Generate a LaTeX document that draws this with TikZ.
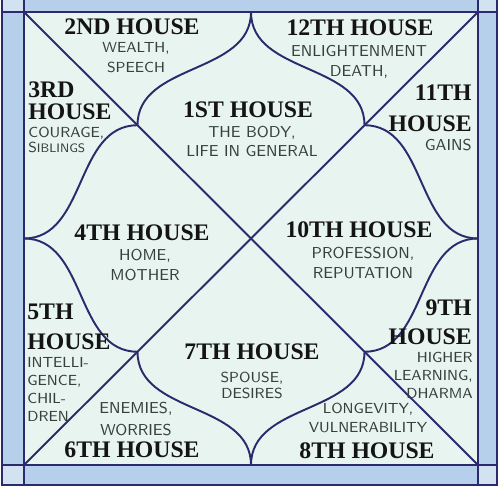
\documentclass[tikz,border=0pt]{standalone}
\usepackage[HTML]{xcolor}
\usepackage{fontspec}
\usepackage{tikz}
\newfontfamily\housefont{Liberation Serif}

\definecolor{stripblue}{HTML}{B6CFEA}
\definecolor{cornerblue}{HTML}{D3E2F1}
\definecolor{chartbg}{HTML}{E8F4F0}
\definecolor{chartline}{HTML}{2A2A6C}
\definecolor{namecol}{HTML}{141414}
\definecolor{notecol}{HTML}{37403C}

\begin{document}
\begin{tikzpicture}[x=0.02cm,y=0.02cm,
  house/.style={text=namecol,inner sep=0pt,font=\housefont\bfseries\fontsize{13.5}{#1}\selectfont},
  house/.default=15,
  trait/.style={text=notecol,inner sep=0pt,font=\sffamily\fontsize{8.3}{#1}\selectfont},
  trait/.default=11.3,
  bigtrait/.style={text=notecol,inner sep=0pt,font=\sffamily\fontsize{9}{#1}\selectfont},
  bigtrait/.default=11.3,
  frameline/.style={draw=chartline,line width=0.8pt},
  chart/.style={draw=chartline,line width=1.1pt}]
\useasboundingbox (0,0) rectangle (500,489);

% frame strips
\fill[stripblue] (2,4) rectangle (497,489);
\fill[cornerblue] (2,477) rectangle (24,489);
\fill[cornerblue] (478,477) rectangle (497,489);
\fill[cornerblue] (2,4) rectangle (24,24);
\fill[cornerblue] (478,4) rectangle (497,24);
\fill[chartbg] (24,24) rectangle (478,477);
\draw[frameline] (2,489) -- (2,4) -- (497,4) -- (497,489);
\draw[frameline] (24,489) -- (24,4);
\draw[frameline] (478,489) -- (478,4);
\draw[frameline] (2,477) -- (497,477);
\draw[frameline] (2,24) -- (497,24);

% chart points
\coordinate (tl) at (24,477);
\coordinate (tr) at (478,477);
\coordinate (bl) at (24,24);
\coordinate (br) at (478,24);
\coordinate (tm) at (251,477);
\coordinate (bm) at (251,24);
\coordinate (lm) at (24,250.5);
\coordinate (rm) at (478,250.5);
\coordinate (ul) at (137.5,363.75);
\coordinate (ur) at (364.5,363.75);
\coordinate (ll) at (137.5,137.25);
\coordinate (lr) at (364.5,137.25);

% diagonals and petals
\draw[chart] (tl) -- (br);
\draw[chart] (tr) -- (bl);
\draw[chart] (tm) to[out=-90,in=90] (ul);
\draw[chart] (tm) to[out=-90,in=90] (ur);
\draw[chart] (lm) to[out=0,in=180] (ul);
\draw[chart] (lm) to[out=0,in=180] (ll);
\draw[chart] (bm) to[out=90,in=-90] (ll);
\draw[chart] (bm) to[out=90,in=-90] (lr);
\draw[chart] (rm) to[out=180,in=0] (ur);
\draw[chart] (rm) to[out=180,in=0] (lr);

% houses
\node[house] (h1) at (248,379) {1ST HOUSE};
\node[bigtrait=10.8,align=center] (h1t) at (252,347.5) {THE BODY,\\LIFE IN GENERAL};
\node[house] (h2) at (132,462) {2ND HOUSE};
\node[trait,align=center] (h2t) at (136,431) {WEALTH,\\SPEECH};
\node[house=12.5,align=left,anchor=west] (h3) at (28,388) {3RD\\HOUSE};
\node[trait=9,align=left,anchor=west] (h3t) at (28,349) {COURAGE,\\S{\fontsize{7}{9}\selectfont IBLINGS}};
\node[house] (h4) at (142,256) {4TH HOUSE};
\node[bigtrait,align=center] (h4t) at (145,224) {HOME,\\MOTHER};
\node[house=17,align=left,anchor=west] (h5) at (27,162) {5TH\\HOUSE};
\node[trait=10.4,align=left,anchor=west] (h5t) at (27,99.5) {INTELLI-\\GENCE,\\CHIL-\\DREN};
\node[house] (h6) at (132,39) {6TH HOUSE};
\node[bigtrait=12.5,align=center] (h6t) at (136,70) {ENEMIES,\\WORRIES};
\node[house] (h7) at (252,137) {7TH HOUSE};
\node[trait=9.6,align=center] (h7t) at (252,103.5) {SPOUSE,\\DESIRES};
\node[house] (h8) at (367,38) {8TH HOUSE};
\node[trait=10.8,align=center] (h8t) at (368,71.5) {LONGEVITY,\\VULNERABILITY};
\node[house=16.4,align=right,anchor=east] (h9) at (472,166.5) {9TH\\HOUSE};
\node[trait=10.2,align=right,anchor=east] (h9t) at (473,114) {HIGHER\\LEARNING,\\DHARMA};
\node[house] (h10) at (359,259) {10TH HOUSE};
\node[bigtrait,align=center] (h10t) at (363,226) {PROFESSION,\\REPUTATION};
\node[house=17.6,align=right,anchor=east] (h11) at (472,380.5) {11TH\\HOUSE};
\node[bigtrait,anchor=east] (h11t) at (472,344) {GAINS};
\node[house] (h12) at (360,461) {12TH HOUSE};
\node[bigtrait,align=center] (h12t) at (359,427) {ENLIGHTENMENT\\DEATH,};
\end{tikzpicture}
\end{document}
